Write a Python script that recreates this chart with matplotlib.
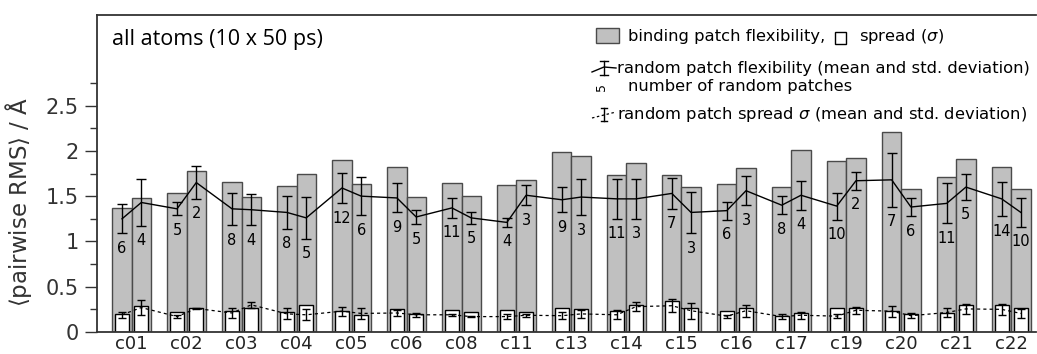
import numpy as np
import matplotlib
matplotlib.use("Agg")
import matplotlib.pyplot as plt
from matplotlib.patches import Rectangle
from matplotlib.lines import Line2D

groups = ["c01", "c02", "c03", "c04", "c05", "c06", "c08", "c11", "c13",
          "c14", "c15", "c16", "c17", "c19", "c20", "c21", "c22"]

# two patches per group (a, b), in order c01a, c01b, c02a, ...
binding_flex = [1.37, 1.48, 1.54, 1.78, 1.66, 1.49, 1.61, 1.74, 1.90, 1.63,
                1.82, 1.49, 1.65, 1.50, 1.62, 1.68, 1.99, 1.94, 1.73, 1.87,
                1.73, 1.60, 1.63, 1.81, 1.60, 2.01, 1.89, 1.92, 2.21, 1.58,
                1.71, 1.91, 1.82, 1.58]
binding_spread = [0.20, 0.29, 0.22, 0.27, 0.23, 0.27, 0.22, 0.30, 0.23, 0.19,
                  0.25, 0.20, 0.24, 0.22, 0.24, 0.22, 0.26, 0.25, 0.23, 0.30,
                  0.34, 0.27, 0.23, 0.26, 0.18, 0.21, 0.27, 0.26, 0.23, 0.20,
                  0.21, 0.30, 0.30, 0.27]
rand_flex_mean = [1.25, 1.43, 1.36, 1.65, 1.36, 1.35, 1.32, 1.26, 1.59, 1.50,
                  1.48, 1.27, 1.37, 1.26, 1.21, 1.51, 1.46, 1.49, 1.47, 1.47,
                  1.53, 1.32, 1.34, 1.56, 1.40, 1.51, 1.39, 1.67, 1.68, 1.38,
                  1.42, 1.60, 1.47, 1.32]
rand_flex_std = [0.16, 0.26, 0.07, 0.18, 0.18, 0.17, 0.18, 0.23, 0.17, 0.21,
                 0.16, 0.08, 0.11, 0.065, 0.05, 0.11, 0.14, 0.20, 0.22, 0.22,
                 0.17, 0.23, 0.10, 0.16, 0.10, 0.16, 0.15, 0.10, 0.30, 0.10,
                 0.22, 0.14, 0.19, 0.16]
n_random = [6, 4, 5, 2, 8, 4, 8, 5, 12, 6, 9, 5, 11, 5, 4, 3, 9, 3, 11, 3,
            7, 3, 6, 3, 8, 4, 10, 2, 7, 6, 11, 5, 14, 10]
rand_spread_mean = [0.19, 0.27, 0.17, 0.26, 0.21, 0.30, 0.20, 0.19, 0.23, 0.205,
                    0.21, 0.19, 0.19, 0.17, 0.17, 0.185, 0.18, 0.20, 0.19, 0.28,
                    0.29, 0.235, 0.175, 0.235, 0.17, 0.185, 0.175, 0.24, 0.23, 0.18,
                    0.215, 0.255, 0.25, 0.205]
rand_spread_std = [0.03, 0.08, 0.02, 0.01, 0.05, 0.03, 0.06, 0.06, 0.05, 0.065,
                   0.03, 0.02, 0.01, 0.005, 0.03, 0.015, 0.04, 0.04, 0.05, 0.05,
                   0.07, 0.09, 0.015, 0.065, 0.025, 0.04, 0.025, 0.04, 0.06, 0.03,
                   0.045, 0.055, 0.06, 0.05]

W, H = 1037, 354
fig = plt.figure(figsize=(W / 100, H / 100), dpi=100)
ax = fig.add_axes([96.5 / W, 1 - 332 / H, (1036 - 96.5) / W, (332 - 15) / H])

gx = np.arange(len(groups))
x = np.empty(2 * len(groups))
x[0::2] = gx - 0.175
x[1::2] = gx + 0.175

ax.bar(x, binding_flex, width=0.35, color="#c0c0c0", edgecolor="#4a4a4a", linewidth=1.0, zorder=1)
ax.bar(x, binding_spread, width=0.255, color="white", edgecolor="black", linewidth=1.0, zorder=2)

ax.plot(x, rand_flex_mean, color="black", lw=1.0, zorder=3)
ax.errorbar(x, rand_flex_mean, yerr=rand_flex_std, fmt="none", ecolor="black",
            elinewidth=1.0, capsize=3.5, capthick=1.0, zorder=3)
ax.plot(x, rand_spread_mean, color="black", lw=0.9, ls=(0, (2.5, 2.5)), zorder=3)
ax.errorbar(x, rand_spread_mean, yerr=rand_spread_std, fmt="none", ecolor="black",
            elinewidth=1.0, capsize=3.0, capthick=1.0, zorder=3)

for xi, m, s, n in zip(x, rand_flex_mean, rand_flex_std, n_random):
    ax.text(xi, m - s - 0.165, str(n), ha="center", va="center", fontsize=10.5, zorder=4)

ax.set_xlim(-0.64, 16.45)
ax.set_ylim(0, 3.5)
ax.set_xticks(gx)
ax.set_xticklabels(groups, fontsize=13, color="#222222")
ax.tick_params(axis="x", length=0, pad=2)
ax.set_yticks([0, 0.5, 1, 1.5, 2, 2.5])
ax.set_yticklabels(["0", "0.5", "1", "1.5", "2", "2.5"], fontsize=15)
ax.set_yticks(np.arange(0.25, 3.0, 0.5), minor=True)
ax.tick_params(axis="y", which="major", length=8.5, width=1.0, pad=4.5, colors="#333333")
ax.tick_params(axis="y", which="minor", length=4.8, width=1.0, colors="#333333")
ax.set_ylabel(r"$\langle$pairwise RMS$\rangle$ / Å", fontsize=16.5, color="#333333")
ax.yaxis.set_label_coords(-0.066, 0.41)
for sp in ["left", "top", "bottom"]:
    ax.spines[sp].set_color("#333333")
    ax.spines[sp].set_linewidth(1.3)
ax.spines["right"].set_visible(False)

# title inside plot
fig.text(112 / W, 1 - 40 / H, "all atoms (10 x 50 ps)", fontsize=15.5,
         family="Open Sans", ha="left", va="center")

# hand-made legend in figure pixels
def fx(px):
    return px / W

def fy(py):
    return 1 - py / H

tf = fig.transFigure
fig.patches.append(Rectangle((fx(596), fy(43)), 23 / W, 15 / H, transform=tf,
                             facecolor="#c0c0c0", edgecolor="#4a4a4a", lw=1.0))
fig.patches.append(Rectangle((fx(835), fy(44)), 11 / W, 12 / H, transform=tf,
                             facecolor="white", edgecolor="black", lw=1.0))
lfs = 11.8
fig.text(fx(628), fy(36), "binding patch flexibility,", fontsize=lfs, ha="left", va="center")
fig.text(fx(859), fy(36), r"spread ($\sigma$)", fontsize=lfs, ha="left", va="center")

fig.lines.append(Line2D([fx(592), fx(604), fx(616)], [fy(72), fy(67), fy(68)],
                        transform=tf, color="black", lw=1.0))
fig.lines.append(Line2D([fx(604), fx(604)], [fy(61), fy(75)], transform=tf, color="black", lw=1.0))
for yy in (61, 75):
    fig.lines.append(Line2D([fx(600), fx(608)], [fy(yy), fy(yy)], transform=tf, color="black", lw=1.0))
fig.text(fx(617), fy(68), "random patch flexibility (mean and std. deviation)",
         fontsize=lfs, ha="left", va="center")
fig.text(fx(602), fy(87), "5", fontsize=9, rotation=90, ha="center", va="center")
fig.text(fx(628), fy(86), "number of random patches", fontsize=lfs, ha="left", va="center")

fig.lines.append(Line2D([fx(592), fx(604), fx(616)], [fy(118), fy(115), fy(112)],
                        transform=tf, color="black", lw=0.9, ls=(0, (2, 2))))
fig.lines.append(Line2D([fx(604), fx(604)], [fy(108), fy(121)], transform=tf, color="black", lw=1.0))
for yy in (108, 121):
    fig.lines.append(Line2D([fx(601), fx(607)], [fy(yy), fy(yy)], transform=tf, color="black", lw=1.0))
fig.text(fx(617), fy(115), r"random patch spread $\sigma$ (mean and std. deviation)",
         fontsize=lfs, ha="left", va="center")

fig.savefig("out.png", dpi=100)
